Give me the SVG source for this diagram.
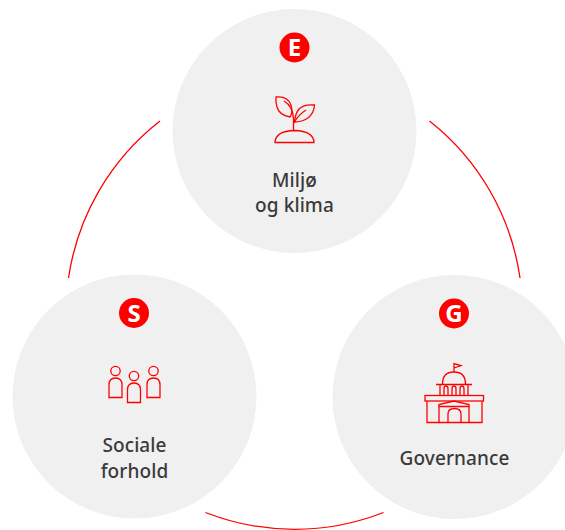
<svg xmlns="http://www.w3.org/2000/svg" width="565" height="530" viewBox="0 0 565 530">
<style>
.c{fill:#f0f0f0}
.b{fill:#f00}
.l{font-family:"Noto Sans","Open Sans",sans-serif;font-size:19px;font-weight:500;fill:#3a3a3a;text-anchor:middle;letter-spacing:.1px}
.t{font-family:"Open Sans","Noto Sans",sans-serif;font-size:24px;font-weight:700;fill:#fff;text-anchor:middle}
.i{fill:none;stroke:#f00;stroke-width:1.3}
.a{fill:none;stroke:#f00;stroke-width:1.3}
</style>
<rect width="565" height="530" fill="#fff"/>
<g id="connectors">
<path class="a" d="M160 121A244 244 0 0 0 68.500 278"/>
<path class="a" d="M429.500 121A244 244 0 0 1 520 278"/>
<path class="a" d="M205.500 512.500A244 244 0 0 0 383.500 512.500"/>
</g>
<g id="node-e">
<circle class="c" cx="294.500" cy="131" r="122"/>
<circle class="b" cx="294.500" cy="47.500" r="15"/>
<text class="t" x="294.500" y="56">E</text>
<g class="i">
<path d="M275 142.500Q275.500 131 294.500 130.500Q313.500 131 314 142.500Z"/>
<path d="M293.500 130.500V119Q293 106 284 101"/>
<path d="M276 97Q288 96 291 105Q293 113 290 117Q279 115 277 107Q275.500 102 276 97Z"/>
<path d="M314.500 105Q304 104 299 109Q295 114 294.500 122Q302 122 308 118Q314 113 314.500 105Z"/>
<path d="M294 123Q298 115 306 110"/>
</g>
<text class="l"><tspan x="294.500" y="187">Miljø</tspan><tspan x="294.500" y="212">og klima</tspan></text>
</g>
<g id="node-s">
<circle class="c" cx="134.500" cy="396.500" r="122"/>
<circle class="b" cx="134" cy="313" r="15"/>
<text class="t" x="134" y="321.500">S</text>
<g class="i">
<circle cx="115.500" cy="371" r="4.700"/>
<path d="M109 397.500V385Q109 378 115.500 378Q122 378 122 385V397.500Z"/>
<circle cx="134" cy="376" r="4.700"/>
<path d="M127.500 402.500V390Q127.500 383 134 383Q140.500 383 140.500 390V402.500Z"/>
<circle cx="153.500" cy="371" r="4.700"/>
<path d="M147 397.500V385Q147 378 153.500 378Q160 378 160 385V397.500Z"/>
</g>
<text class="l"><tspan x="134.500" y="452">Sociale</tspan><tspan x="134.500" y="478">forhold</tspan></text>
</g>
<g id="node-g">
<circle class="c" cx="454.500" cy="397" r="122"/>
<circle class="b" cx="454" cy="313.500" r="15"/>
<text class="t" x="454" y="322">G</text>
<g class="i">
<path d="M454 372V363.500L461 365.500L454 368"/>
<path d="M442.500 384Q442.500 372 454 372Q465.500 372 465.500 384"/>
<path d="M436 384.500H472"/>
<path d="M440 384.500V395M468 384.500V395"/>
<path d="M444 395V389Q444 386 446 386Q448 386 448 389V395M452 395V389Q452 386 454 386Q456 386 456 389V395M460 395V389Q460 386 462 386Q464 386 464 389V395"/>
<rect x="425" y="395.500" width="58.500" height="5.500"/>
<path d="M427 401V422.500H482V401"/>
<path d="M439 406.500V422.500M469 406.500V422.500"/>
<path d="M439 406.500H469V404.500L454 401L439 404.500Z"/>
<path d="M448 422.500V414Q448 408.500 454.500 408.500Q461 408.500 461 414V422.500"/>
</g>
<text class="l" x="454.500" y="465">Governance</text>
</g>
</svg>
